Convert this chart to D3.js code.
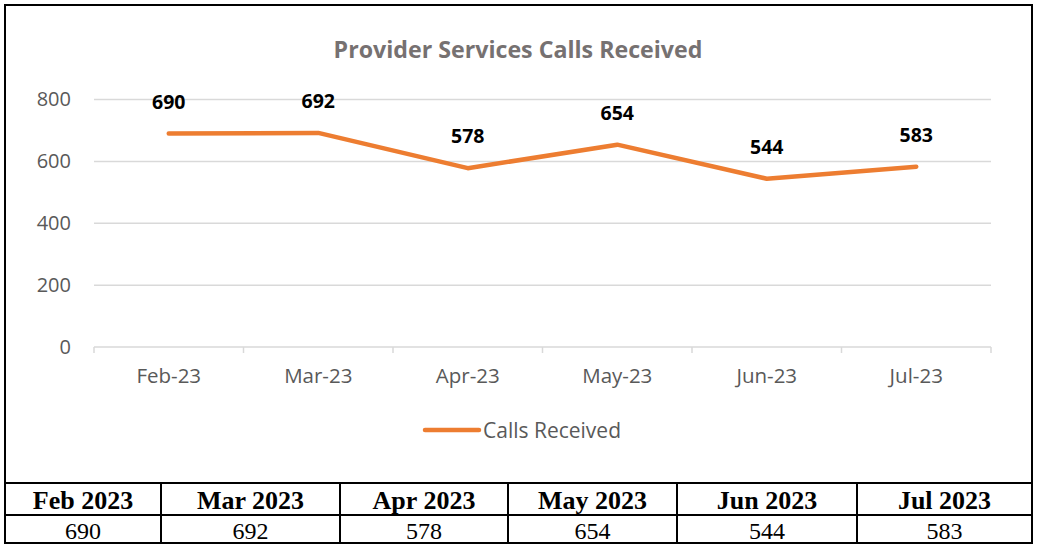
<!DOCTYPE html>
<html lang="en">
<head>
  <meta charset="UTF-8">
  <script src="https://d3js.org/d3.v7.min.js"></script>
  <title>Provider Services Calls Received</title>
  <style>
  body { margin: 0; background: #fff; }
  svg { display: block; }
  .chartText { font-family: "Open Sans", "Noto Sans", sans-serif; }
  .yAxis .tick text, .xAxis .tick text { fill: #595959; font-family: "Open Sans", sans-serif; }
  .tableText { font-family: "Liberation Serif", "Times New Roman", serif; fill: #000; }
  </style>
</head>
<body>
<svg id="chart" width="1037" height="544"></svg>
<script>
  // data
  const months = ["Feb-23", "Mar-23", "Apr-23", "May-23", "Jun-23", "Jul-23"];
  const monthsLong = ["Feb 2023", "Mar 2023", "Apr 2023", "May 2023", "Jun 2023", "Jul 2023"];
  const calls = [690, 692, 578, 654, 544, 583];
  const yTicks = [0, 200, 400, 600, 800];
  const seriesName = "Calls Received";
  const title = "Provider Services Calls Received";

  const svg = d3.select("svg#chart");
  const orange = "#ED7D31";
  const x0 = 94, x1 = 991, yTop = 99.5, yBottom = 347;

  // outer frame of the chart
  svg.append("path")
      .attr("d", "M5,483 V5 H1032 V483")
      .attr("fill", "none").attr("stroke", "#000").attr("stroke-width", 2);

  svg.append("text")
      .attr("class", "chartText")
      .attr("x", 518).attr("y", 58)
      .attr("text-anchor", "middle")
      .attr("font-size", 23.2).attr("font-weight", "bold")
      .attr("fill", "#767171")
      .text(title);

  const xScale = d3.scaleBand().domain(months).range([x0, x1]);
  const yScale = d3.scaleLinear().domain([0, 800]).range([yBottom, yTop]);

  // gridlines
  svg.append("g")
    .selectAll("line")
    .data(yTicks.filter(d => d > 0))
    .join("line")
      .attr("x1", x0).attr("x2", x1)
      .attr("y1", d => yScale(d)).attr("y2", d => yScale(d))
      .attr("stroke", "#d9d9d9").attr("stroke-width", 1.5);

  const yAxis = d3.axisLeft(yScale).tickValues(yTicks).tickSize(0).tickPadding(23);
  svg.append("g")
      .attr("class", "yAxis")
      .attr("transform", `translate(${x0},0)`)
      .call(yAxis)
      .call(g => g.select(".domain").remove())
      .selectAll("text").attr("font-size", 20);

  const xAxis = d3.axisBottom(xScale).tickSize(0).tickPadding(21);
  const xAxisG = svg.append("g")
      .attr("class", "xAxis")
      .attr("transform", `translate(0,${yBottom})`)
      .call(xAxis);
  xAxisG.select(".domain").attr("stroke", "#d9d9d9").attr("stroke-width", 1.5)
      .attr("d", `M${x0},0H${x1}`);
  xAxisG.selectAll("text").attr("font-size", 20.5);
  // tick marks on category boundaries
  xAxisG.selectAll("line.boundary")
    .data(d3.range(months.length + 1))
    .join("line")
      .attr("class", "boundary")
      .attr("x1", i => x0 + i * xScale.step()).attr("x2", i => x0 + i * xScale.step())
      .attr("y1", 0).attr("y2", 6)
      .attr("stroke", "#d9d9d9").attr("stroke-width", 1.5);

  const cx = d => xScale(d) + xScale.bandwidth() / 2;

  const line = d3.line()
      .x((d, i) => cx(months[i]))
      .y(d => yScale(d));

  svg.append("path")
      .datum(calls)
      .attr("d", line)
      .attr("fill", "none")
      .attr("stroke", orange)
      .attr("stroke-width", 4.5)
      .attr("stroke-linecap", "round")
      .attr("stroke-linejoin", "round");

  svg.append("g")
    .selectAll("text")
    .data(calls)
    .join("text")
      .attr("class", "chartText")
      .attr("x", (d, i) => cx(months[i]))
      .attr("y", d => yScale(d) - 25)
      .attr("text-anchor", "middle")
      .attr("font-size", 19.5).attr("font-weight", "bold")
      .attr("fill", "#000")
      .text(d => d);

  // legend
  const legend = svg.append("g");
  legend.append("line")
      .attr("x1", 425).attr("x2", 479).attr("y1", 430).attr("y2", 430)
      .attr("stroke", orange).attr("stroke-width", 4.5).attr("stroke-linecap", "round");
  legend.append("text")
      .attr("class", "chartText")
      .attr("x", 483).attr("y", 437.5)
      .attr("font-size", 21).attr("fill", "#595959")
      .text(seriesName);

  // table under the chart
  const colEdges = [5, 161, 340, 508, 677, 857, 1032];
  const rowTop = 483, rowMid = 515, rowBottom = 543;
  const table = svg.append("g");
  table.selectAll("line.h")
    .data([rowTop, rowMid, rowBottom])
    .join("line")
      .attr("class", "h")
      .attr("x1", colEdges[0] - 1).attr("x2", colEdges[6] + 1)
      .attr("y1", d => d).attr("y2", d => d)
      .attr("stroke", "#000").attr("stroke-width", 2);
  table.selectAll("line.v")
    .data(colEdges)
    .join("line")
      .attr("class", "v")
      .attr("x1", d => d).attr("x2", d => d)
      .attr("y1", rowTop).attr("y2", rowBottom + 1)
      .attr("stroke", "#000").attr("stroke-width", 2);
  table.selectAll("text.head")
    .data(monthsLong)
    .join("text")
      .attr("class", "head tableText")
      .attr("x", (d, i) => (colEdges[i] + colEdges[i + 1]) / 2)
      .attr("y", 509)
      .attr("text-anchor", "middle")
      .attr("font-size", 26).attr("font-weight", "bold")
      .text(d => d);
  table.selectAll("text.val")
    .data(calls)
    .join("text")
      .attr("class", "val tableText")
      .attr("x", (d, i) => (colEdges[i] + colEdges[i + 1]) / 2)
      .attr("y", 539)
      .attr("text-anchor", "middle")
      .attr("font-size", 24)
      .text(d => d);
</script>
</body>
</html>
